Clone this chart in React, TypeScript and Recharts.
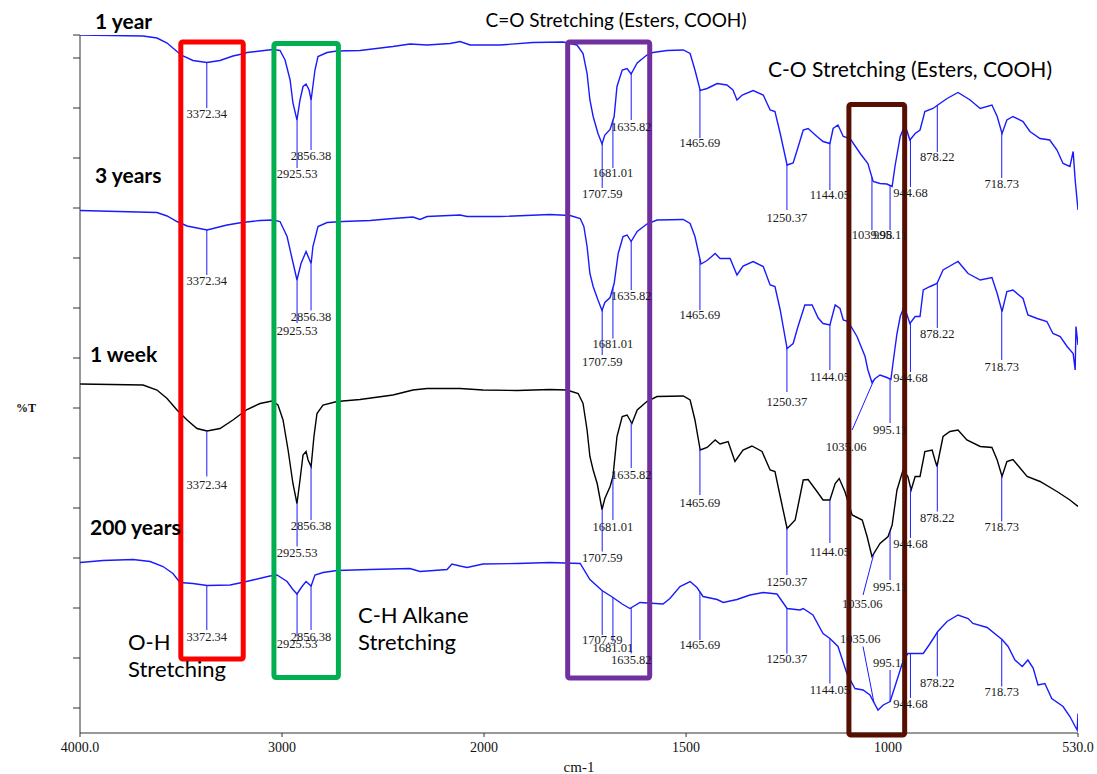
import React from "react";
import {
  ComposedChart,
  Line,
  XAxis,
  YAxis,
  ReferenceLine,
  ReferenceDot,
  ReferenceArea,
} from "recharts";

// wavenumber (cm-1) / stacked %T readings for each sample
const oneYearWn = [
  4000, 3688, 3619, 3569, 3520, 3490, 3441, 3372, 3307, 3243, 3198, 3173, 3109, 3045, 3010, 2985, 2960, 2946,
  2926, 2911, 2896, 2881, 2866, 2856, 2837, 2822, 2777, 2728, 2614, 2451, 2367, 2282, 2168, 2119, 2069, 1960,
  1879, 1804, 1770, 1755, 1745, 1738, 1730, 1718, 1708, 1701, 1688, 1678, 1671, 1658, 1646, 1636, 1621, 1597,
  1582, 1547, 1507, 1490, 1478, 1465, 1448, 1423, 1399, 1384, 1374, 1361, 1334, 1309, 1292, 1280, 1267, 1250,
  1235, 1225, 1210, 1198, 1176, 1161, 1144, 1136, 1124, 1111, 1094, 1069, 1050, 1037, 1020, 1003, 990, 983,
  970, 958, 946, 933, 921, 909, 889, 877, 854, 827, 797, 772, 743, 730, 718, 706, 691, 666, 649, 624, 600,
  582, 567, 550, 542, 537, 530,
];
const oneYearT = [
  139.6, 139.4, 139.0, 138.0, 136.3, 135.4, 134.5, 134.1, 134.5, 135.4, 135.8, 136.1, 136.4, 136.7, 136.5,
  134.6, 130.6, 126.0, 122.6, 126.6, 129.3, 129.8, 128.6, 126.6, 132.6, 135.3, 136.1, 136.4, 136.5, 137.3,
  137.8, 137.6, 137.9, 138.3, 137.6, 137.6, 138.1, 138.2, 137.6, 135.9, 131.9, 126.6, 123.3, 119.9, 117.8,
  119.6, 120.7, 123.3, 129.3, 132.6, 132.9, 131.8, 134.0, 135.6, 136.1, 136.5, 136.6, 135.9, 132.6, 128.5,
  128.9, 129.9, 129.6, 128.6, 126.6, 127.6, 128.5, 127.6, 124.6, 124.3, 119.9, 113.6, 114.0, 116.6, 120.6,
  120.9, 119.3, 118.3, 117.9, 120.9, 121.6, 119.3, 118.9, 115.9, 113.9, 110.3, 109.9, 109.8, 109.3, 113.3,
  119.3, 121.6, 118.6, 119.9, 120.6, 124.3, 124.9, 125.6, 126.9, 128.1, 126.6, 124.9, 125.6, 123.3, 119.9,
  122.6, 123.3, 122.3, 120.3, 118.9, 118.6, 116.6, 113.9, 113.3, 116.3, 110.6, 104.6,
];

const threeYearWn = [
  4000, 3619, 3569, 3520, 3470, 3371, 3272, 3198, 3109, 3045, 3010, 2975, 2951, 2926, 2906, 2881, 2856, 2847,
  2822, 2777, 2698, 2564, 2451, 2352, 2317, 2282, 2119, 2084, 1960, 1837, 1787, 1762, 1753, 1745, 1738, 1730,
  1718, 1708, 1701, 1688, 1678, 1668, 1656, 1646, 1636, 1621, 1597, 1572, 1507, 1490, 1478, 1463, 1448, 1428,
  1416, 1391, 1374, 1359, 1334, 1309, 1292, 1280, 1267, 1250, 1235, 1223, 1206, 1188, 1173, 1161, 1144, 1131,
  1119, 1111, 1099, 1077, 1057, 1050, 1040, 1032, 1020, 1003, 993, 988, 978, 970, 960, 946, 933, 921, 913,
  896, 879, 864, 847, 827, 802, 772, 743, 730, 718, 706, 691, 666, 654, 631, 607, 592, 574, 557, 542, 537,
  535, 530,
];
const threeYearT = [
  104.5, 104.1, 103.4, 102.3, 101.4, 100.6, 101.6, 102.1, 102.5, 102.6, 102.3, 99.3, 95.0, 90.6, 93.9, 96.3,
  93.9, 97.3, 101.3, 102.1, 102.3, 102.5, 102.9, 103.2, 102.7, 103.3, 103.6, 103.3, 103.3, 103.7, 103.5,
  102.9, 101.3, 97.3, 91.9, 89.3, 86.6, 84.5, 86.1, 87.1, 89.9, 95.9, 99.3, 99.6, 98.3, 100.3, 101.8, 102.6,
  102.7, 101.9, 99.3, 93.8, 94.5, 95.9, 94.9, 94.9, 91.6, 93.4, 94.3, 93.3, 89.6, 89.3, 84.6, 76.9, 77.9,
  81.3, 85.6, 85.6, 83.0, 81.9, 81.6, 85.6, 84.9, 82.6, 82.3, 79.3, 75.3, 72.6, 70.1, 70.9, 71.6, 71.1, 70.7,
  73.9, 79.9, 83.3, 85.3, 81.9, 83.3, 83.3, 88.6, 89.3, 89.9, 92.6, 93.4, 94.3, 91.9, 90.6, 91.1, 87.9, 84.3,
  88.3, 88.6, 86.9, 83.6, 82.9, 82.3, 79.9, 79.3, 77.3, 75.9, 72.6, 81.3, 77.6,
];

const oneWeekWn = [
  4000, 3688, 3619, 3569, 3520, 3470, 3421, 3371, 3307, 3243, 3173, 3109, 3050, 3020, 2995, 2970, 2946, 2926,
  2911, 2896, 2881, 2871, 2856, 2842, 2827, 2797, 2728, 2614, 2451, 2352, 2282, 2119, 2005, 1918, 1837, 1795,
  1767, 1755, 1745, 1738, 1730, 1720, 1708, 1701, 1688, 1681, 1671, 1658, 1646, 1634, 1621, 1597, 1572, 1507,
  1490, 1478, 1465, 1448, 1428, 1416, 1396, 1379, 1359, 1337, 1312, 1292, 1280, 1267, 1250, 1230, 1210, 1198,
  1176, 1161, 1144, 1131, 1121, 1107, 1089, 1064, 1052, 1040, 1020, 1000, 990, 978, 963, 951, 943, 933, 921,
  909, 891, 884, 879, 864, 847, 827, 805, 772, 743, 730, 718, 706, 691, 656, 624, 582, 550, 530,
];
const oneWeekT = [
  69.8, 69.6, 68.6, 66.9, 64.6, 62.6, 60.9, 60.4, 60.9, 62.6, 64.7, 65.9, 66.4, 65.6, 62.6, 56.6, 49.9, 45.9,
  50.6, 55.6, 56.3, 54.6, 53.3, 59.3, 63.9, 65.6, 66.3, 66.7, 67.6, 68.6, 68.9, 68.9, 68.6, 68.5, 68.7, 68.6,
  67.9, 65.9, 60.6, 55.3, 52.6, 49.9, 44.7, 46.9, 49.3, 51.3, 59.3, 63.3, 63.6, 61.9, 64.6, 66.3, 67.3, 67.4,
  66.6, 62.6, 56.6, 57.1, 58.6, 57.8, 58.3, 54.3, 56.6, 57.4, 56.3, 52.6, 52.3, 47.3, 40.9, 42.6, 50.6, 50.7,
  48.3, 46.6, 46.6, 49.9, 50.9, 48.3, 43.6, 42.6, 39.3, 35.3, 37.9, 39.3, 41.6, 48.6, 52.6, 51.3, 48.6, 51.3,
  51.3, 56.3, 56.6, 54.6, 53.3, 59.3, 60.3, 60.6, 58.6, 57.3, 57.1, 54.6, 51.3, 54.3, 54.7, 51.3, 50.3, 48.3,
  46.6, 45.3,
];

const twoHundredWn = [
  4000, 3886, 3738, 3653, 3589, 3540, 3505, 3441, 3371, 3257, 3198, 3144, 3060, 3025, 2975, 2946, 2926, 2901,
  2881, 2856, 2837, 2797, 2728, 2564, 2367, 2317, 2183, 2159, 2119, 2084, 2005, 1918, 1837, 1762, 1738, 1708,
  1681, 1658, 1639, 1614, 1557, 1540, 1515, 1490, 1473, 1458, 1423, 1408, 1374, 1342, 1309, 1275, 1250, 1218,
  1210, 1186, 1161, 1144, 1124, 1102, 1082, 1062, 1045, 1025, 1012, 995, 983, 965, 951, 913, 896, 877, 854,
  827, 802, 790, 755, 718, 703, 686, 668, 654, 641, 629, 612, 595, 567, 550, 537, 532, 530,
];
const twoHundredT = [
  34.1, 34.5, 34.7, 34.3, 33.3, 31.9, 30.1, 29.9, 29.5, 29.6, 30.1, 30.6, 31.4, 31.6, 30.3, 28.7, 27.8, 29.3,
  30.3, 29.4, 31.6, 32.1, 32.5, 32.7, 32.9, 32.3, 32.7, 33.8, 33.4, 33.1, 33.8, 33.9, 34.1, 33.9, 30.7, 28.5,
  27.1, 25.8, 24.9, 26.1, 25.8, 26.9, 29.3, 30.3, 29.1, 27.3, 26.7, 26.1, 26.7, 27.6, 28.1, 27.8, 24.9, 24.6,
  24.9, 23.6, 19.9, 18.9, 17.3, 11.9, 8.9, 8.6, 7.6, 4.6, 5.6, 6.3, 9.3, 13.9, 15.9, 15.9, 17.9, 20.3, 22.3,
  23.6, 22.9, 21.9, 21.1, 18.7, 17.3, 14.6, 13.3, 14.6, 13.0, 9.6, 9.9, 6.9, 5.3, 3.3, 1.3, 0.6, 3.9,
];

// picked peaks
const peakWn = [3372.34, 2925.53, 2856.38, 1707.59, 1681.01, 1635.82, 1465.69, 1250.37, 1144.05, 1035.06, 995.11, 944.68, 878.22, 718.73];
const oneYearPeakWn = [3372.34, 2925.53, 2856.38, 1707.59, 1681.01, 1635.82, 1465.69, 1250.37, 1144.05, 1039.98, 995.11, 944.68, 878.22, 718.73];

// where each peak marker ends and where its label sits (same %T units)
const oneYearMarkEnd = [125.0, 113.0, 116.6, 109.0, 113.0, 122.6, 119.0, 104.6, 108.6, 100.6, 100.6, 109.2, 116.2, 111.0];
const oneYearLabelAt = [123.8, 111.8, 115.4, 107.9, 112.0, 121.3, 118.0, 103.0, 107.6, 99.6, 99.6, 108.0, 115.2, 109.8];
const threeYearMarkEnd = [91.6, 82.0, 84.5, 75.6, 78.9, 88.6, 84.6, 68.2, 72.6, 60.6, 62.0, 72.2, 81.0, 74.6];
const threeYearLabelAt = [90.5, 80.5, 83.3, 74.3, 77.9, 87.4, 83.6, 66.3, 71.3, 57.3, 60.6, 71.1, 79.8, 73.3];
const oneWeekMarkEnd = [51.3, 37.3, 42.6, 36.3, 42.6, 53.0, 47.6, 31.6, 38.0, 27.6, 30.6, 39.0, 44.3, 42.3];
const oneWeekLabelAt = [49.7, 36.1, 41.4, 35.0, 41.3, 51.6, 46.1, 30.3, 36.3, 25.9, 29.3, 37.8, 43.0, 41.3];
const twoHundredMarkEnd = [20.6, 19.3, 20.6, 19.6, 18.3, 15.9, 18.6, 15.9, 9.9, 17.3, 12.6, 7.0, 11.3, 9.3];
const twoHundredLabelAt = [19.3, 17.8, 19.3, 18.6, 17.1, 14.7, 17.6, 14.9, 8.6, 18.8, 14.1, 5.8, 10.1, 8.3];

const xTicks = [4000, 3000, 2000, 1500, 1000, 530];
const xTickText = ["4000.0", "3000", "2000", "1500", "1000", "530.0"];
const yTicks = [5, 15, 25, 35, 45, 55, 65, 75, 85, 95, 105, 115, 125, 135, 139.6];

const BLUE = "#1a1aff";
const SERIF = "'Liberation Serif', 'DejaVu Serif', serif";
const SANS = "Lato, 'Open Sans', sans-serif";

// the instrument doubles the scale below 2000 cm-1
const toU = (wn: number) => (wn >= 2000 ? 4000 - wn : 2000 + (2000 - wn) * 2);

function valueAt(wns: number[], ts: number[], wn: number) {
  for (let i = 0; i < wns.length - 1; i++) {
    if (wn <= wns[i] && wn >= wns[i + 1]) {
      const f = (wns[i] - wn) / (wns[i] - wns[i + 1]);
      return ts[i] + (ts[i + 1] - ts[i]) * f;
    }
  }
  return ts[ts.length - 1];
}

const series = [
  { key: "y1", wn: oneYearWn, t: oneYearT, color: BLUE, peaks: oneYearPeakWn, ends: oneYearMarkEnd, labels: oneYearLabelAt, bend: null },
  { key: "y3", wn: threeYearWn, t: threeYearT, color: BLUE, peaks: peakWn, ends: threeYearMarkEnd, labels: threeYearLabelAt, bend: { i: 9, end: 1089, label: 1104 } },
  { key: "w1", wn: oneWeekWn, t: oneWeekT, color: "#000", peaks: peakWn, ends: oneWeekMarkEnd, labels: oneWeekLabelAt, bend: { i: 9, end: 1062, label: 1064 } },
  { key: "y200", wn: twoHundredWn, t: twoHundredT, color: BLUE, peaks: peakWn, ends: twoHundredMarkEnd, labels: twoHundredLabelAt, bend: { i: 9, end: 1062, label: 1069 } },
];

export default function App() {
  return (
    <div style={{ position: "fixed", left: 0, top: 0, width: 1097, height: 774, background: "#fff" }}>
      <ComposedChart width={1097} height={774} margin={{ top: 35, right: 19, bottom: 0, left: 0 }}>
        <XAxis
          dataKey="u"
          type="number"
          domain={[0, 4940]}
          ticks={xTicks.map(toU)}
          tickFormatter={(v: number) => xTickText[xTicks.map(toU).indexOf(v)] ?? ""}
          height={41}
          tickSize={4}
          tickMargin={5}
          stroke="#333"
          tick={{ fill: "#111", fontSize: 14, fontFamily: SERIF }}
          label={{ value: "cm-1", position: "insideBottom", offset: 2, fill: "#111", fontSize: 15, fontFamily: SERIF }}
          allowDataOverflow
        />
        <YAxis
          type="number"
          domain={[0, 139.6]}
          ticks={yTicks}
          tickFormatter={() => ""}
          width={80}
          tickSize={7}
          stroke="#333"
          allowDataOverflow
        />

        {series.map((s) => (
          <Line
            key={s.key}
            data={s.wn.map((w, i) => ({ u: toU(w), t: s.t[i] }))}
            dataKey="t"
            type="linear"
            stroke={s.color}
            strokeWidth={1.4}
            dot={false}
            activeDot={false}
            isAnimationActive={false}
          />
        ))}

        {series.flatMap((s) =>
          s.peaks.map((p, i) => {
            const top = valueAt(s.wn, s.t, p);
            const bent = s.bend && s.bend.i === i;
            const endWn = bent ? s.bend!.end : p;
            const labelWn = bent ? s.bend!.label : p;
            return [
              <ReferenceLine
                key={`${s.key}-l${i}`}
                segment={[
                  { x: toU(p), y: top },
                  { x: toU(endWn), y: s.ends[i] },
                ]}
                stroke={BLUE}
                strokeWidth={1}
                ifOverflow="visible"
              />,
              <ReferenceDot
                key={`${s.key}-t${i}`}
                x={toU(labelWn)}
                y={s.labels[i]}
                r={0}
                fill="none"
                stroke="none"
                ifOverflow="visible"
                label={{
                  value: p.toFixed(2),
                  position: "center",
                  fill: "#1a1a1a",
                  fontSize: 12.5,
                  fontFamily: SERIF,
                }}
              />,
            ];
          })
        )}

        <ReferenceArea x1={toU(3501)} x2={toU(3192)} y1={14.8} y2={138.2} fill="none" stroke="#ff0000" strokeWidth={5} radius={2} ifOverflow="visible" zIndex={1500} />
        <ReferenceArea x1={toU(3040)} x2={toU(2721)} y1={11.1} y2={137.9} fill="none" stroke="#00b050" strokeWidth={5} radius={2} ifOverflow="visible" zIndex={1500} />
        <ReferenceArea x1={toU(1793)} x2={toU(1590)} y1={11.0} y2={138.2} fill="none" stroke="#7030a0" strokeWidth={5} radius={2} ifOverflow="visible" zIndex={1500} />
        <ReferenceArea x1={toU(1097)} x2={toU(959)} y1={-0.4} y2={125.7} fill="none" stroke="#560f02" strokeWidth={5} radius={2} ifOverflow="visible" zIndex={1500} />
      </ComposedChart>

      <svg width={1097} height={774} style={{ position: "absolute", left: 0, top: 0, pointerEvents: "none" }}>
        <g fontFamily={SANS} fontWeight="bold" fontSize={21} fill="#000">
          <text x={95} y={29}>1 year</text>
          <text x={95} y={183}>3 years</text>
          <text x={90} y={362}>1 week</text>
          <text x={90} y={535}>200 years</text>
        </g>
        <g fontFamily={SANS} fill="#000">
          <text x={616} y={27} fontSize={19} textAnchor="middle">C=O Stretching (Esters, COOH)</text>
          <text x={768} y={77} fontSize={21}>C-O Stretching (Esters, COOH)</text>
          <text x={128} y={650} fontSize={22}>O-H</text>
          <text x={128} y={677} fontSize={22}>Stretching</text>
          <text x={358} y={623} fontSize={22}>C-H Alkane</text>
          <text x={358} y={650} fontSize={22}>Stretching</text>
        </g>
        <text x={26} y={412} fontFamily={SERIF} fontWeight="bold" fontSize={12} textAnchor="middle" fill="#111">%T</text>
      </svg>
    </div>
  );
}
